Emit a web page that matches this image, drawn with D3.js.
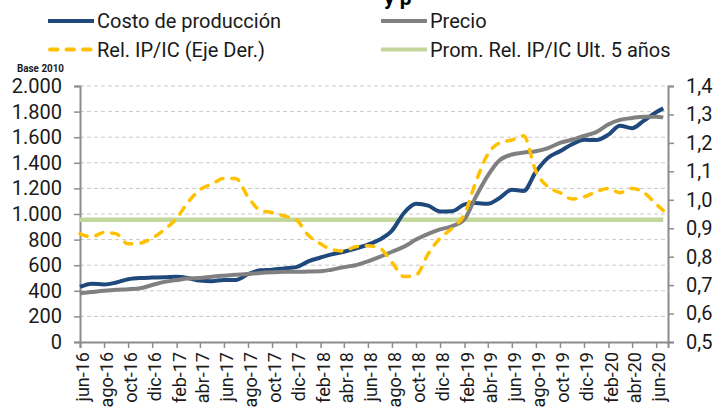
<!DOCTYPE html>
<html><head><meta charset="utf-8">
<script src="https://cdn.jsdelivr.net/npm/d3@7"></script>
<style>
html,body{margin:0;padding:0;background:#fff;}
svg{display:block;font-family:Roboto,"Liberation Sans",Arial,sans-serif;}
</style></head>
<body><svg id="c" width="715" height="412"></svg>
<script>
// ---- data ----
const monthLabels = ["jun-16","ago-16","oct-16","dic-16","feb-17","abr-17","jun-17","ago-17","oct-17","dic-17","feb-18","abr-18","jun-18","ago-18","oct-18","dic-18","feb-19","abr-19","jun-19","ago-19","oct-19","dic-19","feb-20","abr-20","jun-20"];
const leftTicks = [0,200,400,600,800,1000,1200,1400,1600,1800,2000];
const rightTicks = [0.5,0.6,0.7,0.8,0.9,1.0,1.1,1.2,1.3,1.4];
const costo = [430,455,450,465,490,500,503,505,510,500,480,475,485,485,530,560,565,575,585,630,660,685,705,730,760,800,870,1010,1080,1065,1020,1022,1075,1085,1080,1125,1190,1180,1330,1440,1490,1545,1580,1578,1620,1690,1670,1730,1795,1825];
const precio = [380,390,400,408,413,420,445,470,484,497,500,510,518,525,532,540,545,548,548,550,552,565,585,600,630,665,705,745,800,845,880,905,960,1130,1300,1420,1465,1480,1490,1515,1555,1580,1610,1640,1700,1735,1750,1760,1760,1755];
const relIPIC = [0.88,0.87,0.885,0.88,0.845,0.848,0.865,0.895,0.935,0.99,1.035,1.055,1.075,1.075,1.01,0.963,0.955,0.943,0.93,0.875,0.845,0.825,0.82,0.835,0.838,0.83,0.78,0.73,0.735,0.81,0.865,0.9,0.95,1.06,1.16,1.2,1.21,1.225,1.10,1.045,1.025,1.003,1.01,1.028,1.04,1.025,1.04,1.025,0.985,0.962];
const promRel = 0.93;
const dates = d3.timeMonth.range(new Date(2016,5,1), new Date(2020,6,1));
dates.push(new Date(2020,5,19));
const legendItems = [
  {name:"Costo de producción", color:"#1f497d", dash:null},
  {name:"Precio", color:"#808080", dash:null},
  {name:"Rel. IP/IC (Eje Der.)", color:"#ffc000", dash:"7.5,9"},
  {name:"Prom. Rel. IP/IC Ult. 5 años", color:"#c3d69b", dash:null}
];

// ---- chart ----
const svg = d3.select("#c");
const L = 80, R = 668, T = 86, B = 342;
const x = d3.scaleTime().domain([new Date(2016,5,1), new Date(2020,6,1)]).range([L, R]);
const yL = d3.scaleLinear().domain([0,2000]).range([B,T]);
const yR = d3.scaleLinear().domain([0.5,1.4]).range([B,T]);
const loc = d3.formatLocale({decimal:",",thousands:".",grouping:[3]});
const fmtL = loc.format(",.0f");
const fmtR = loc.format(".1f");

// title (cut off at top)
svg.append("text").attr("x",384).attr("y",5).attr("font-size",21).attr("font-weight","bold")
  .attr("fill","#000").text("y p");

// grid
svg.append("g").selectAll("line").data(leftTicks.slice(1)).join("line")
  .attr("x1",L).attr("x2",R).attr("y1",d=>yL(d)).attr("y2",d=>yL(d))
  .attr("stroke","#c8c8c8").attr("stroke-width",1).attr("stroke-dasharray","4,3");

// axes
const axisColor = "#8c8c8c";
const gL = svg.append("g").attr("transform",`translate(${L},0)`)
  .call(d3.axisLeft(yL).tickValues(leftTicks).tickFormat(fmtL).tickSize(6).tickPadding(12));
const gR = svg.append("g").attr("transform",`translate(${R},0)`)
  .call(d3.axisRight(yR).tickValues(rightTicks).tickFormat(fmtR).tickSize(6).tickPadding(12));
const tickDates = d3.timeMonth.range(new Date(2016,5,1), new Date(2020,6,2), 2);
const gB = svg.append("g").attr("transform",`translate(0,${B})`)
  .call(d3.axisBottom(x).tickValues(tickDates).tickFormat("").tickSize(6));
[gL,gR,gB].forEach(g=>{
  g.select(".domain").attr("stroke",axisColor).attr("stroke-width",2);
  g.selectAll(".tick line").attr("stroke",axisColor).attr("stroke-width",1.5);
  g.selectAll("text").attr("font-size",20).attr("fill","#1a1a1a").attr("font-family","Roboto, sans-serif");
});
// rotated month labels
svg.append("g").selectAll("text").data(tickDates).join("text")
  .attr("transform",d=>`translate(${x(d)+3},${B+10}) rotate(-90)`)
  .attr("text-anchor","end").attr("dy","0.35em")
  .attr("font-size",18).attr("fill","#1a1a1a")
  .text((d,i)=>monthLabels[i]);

// Base 2010
svg.append("text").attr("x",17).attr("y",72).attr("font-size",11.5).attr("font-weight","bold")
  .attr("fill","#1a1a1a").attr("textLength",47).attr("lengthAdjust","spacingAndGlyphs").text("Base 2010");

// series
const curve = d3.curveMonotoneX;
svg.append("line").attr("x1",x(dates[0])).attr("x2",x(dates[dates.length-1]))
  .attr("y1",yR(promRel)).attr("y2",yR(promRel))
  .attr("stroke","#c3d69b").attr("stroke-width",4.5);
const lineL = d3.line().x((d,i)=>x(dates[i])).y(d=>yL(d)).curve(curve);
const lineR = d3.line().x((d,i)=>x(dates[i])).y(d=>yR(d)).curve(curve);
svg.append("path").attr("d",lineL(costo)).attr("fill","none").attr("stroke","#1f497d").attr("stroke-width",4).attr("stroke-linejoin","round");
svg.append("path").attr("d",lineL(precio)).attr("fill","none").attr("stroke","#808080").attr("stroke-width",4).attr("stroke-linejoin","round");
svg.append("path").attr("d",lineR(relIPIC)).attr("fill","none").attr("stroke","#ffc000").attr("stroke-width",3.5)
  .attr("stroke-dasharray","7.5,9").attr("stroke-linecap","round");

// legend
const legPos = [[48,21],[381,21],[48,49.5],[381,49.5]];
legendItems.forEach((it,i)=>{
  const [lx,ly] = legPos[i];
  svg.append("line").attr("x1",lx+(it.dash?2:0)).attr("x2",lx+46).attr("y1",ly).attr("y2",ly)
    .attr("stroke",it.color).attr("stroke-width",4)
    .attr("stroke-dasharray",it.dash).attr("stroke-linecap",it.dash?"round":"butt");
  svg.append("text").attr("x",lx+49).attr("y",ly+7).attr("font-size",20).attr("fill","#1a1a1a").text(it.name);
});
</script></body></html>
